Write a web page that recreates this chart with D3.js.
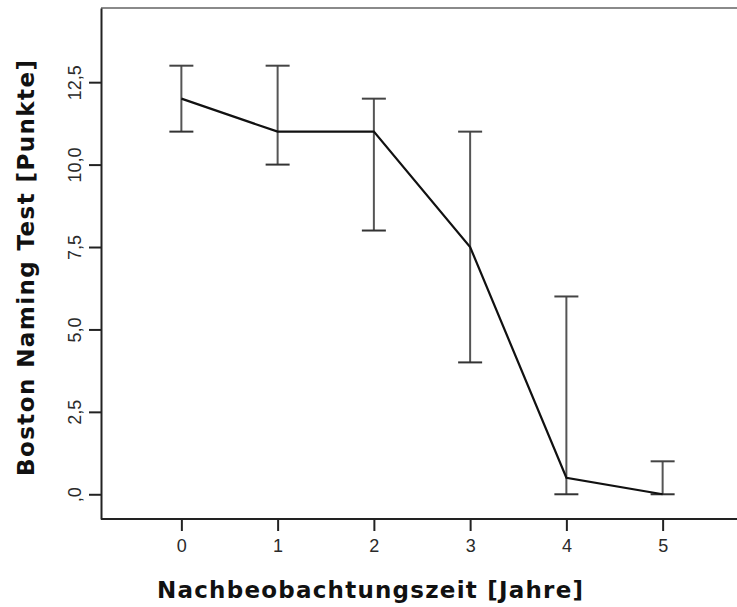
<!DOCTYPE html>
<html>
<head>
<meta charset="utf-8">
<script src="https://cdn.jsdelivr.net/npm/d3@7"></script>
<style>
  body { margin: 0; background: #fff; overflow: hidden; }
  svg { display: block; }
  .tick text { font-family: "Liberation Sans", Arial, sans-serif; fill: #2a2a2a; }
</style>
</head>
<body>
<div id="chart"></div>
<script>
// Nachbeobachtungszeit (Jahre)
var years = [0, 1, 2, 3, 4, 5];
// Mittelwert Boston Naming Test
var means = [12, 11, 11, 7.5, 0.5, 0];
// Fehlerbalken unten / oben
var lowers = [11, 10, 8, 4, 0, 0];
var uppers = [13, 13, 12, 11, 6, 1];
// Achsenbeschriftung y (SPSS Stil)
var yTicks = [0, 2.5, 5, 7.5, 10, 12.5];
var yTickLabels = [",0", "2,5", "5,0", "7,5", "10,0", "12,5"];

var width = 737;
var height = 607;

var svg = d3.select("#chart")
  .append("svg")
  .attr("width", width)
  .attr("height", height);

var x = d3.scaleLinear().domain([-0.835, 5.835]).range([101, 743]);
var y = d3.scaleLinear().domain([-0.75, 14.75]).range([519, 8]);

// Rahmen oben
svg.append("line")
  .attr("x1", x.range()[0]).attr("x2", width)
  .attr("y1", y.range()[1]).attr("y2", y.range()[1])
  .attr("stroke", "#8a8a8a").attr("stroke-width", 2);

// x Achse
var xAxis = svg.append("g")
  .attr("transform", "translate(0," + y.range()[0] + ")")
  .call(d3.axisBottom(x).tickValues(years).tickFormat(d3.format("d")).tickSize(12).tickSizeOuter(0).tickPadding(8));
xAxis.select(".domain").attr("d", "M" + x.range()[0] + ",0H" + width).attr("stroke", "#222").attr("stroke-width", 2);
xAxis.selectAll(".tick line").attr("stroke", "#222").attr("stroke-width", 2);
xAxis.selectAll(".tick text").attr("font-size", 18);

// y Achse
var yAxis = svg.append("g")
  .attr("transform", "translate(" + x.range()[0] + ",0)")
  .call(d3.axisLeft(y).tickValues(yTicks).tickFormat((d, i) => yTickLabels[i]).tickSize(12).tickSizeOuter(0));
yAxis.select(".domain").attr("stroke", "#222").attr("stroke-width", 2);
yAxis.selectAll(".tick line").attr("stroke", "#222").attr("stroke-width", 2);
yAxis.selectAll(".tick text")
  .attr("font-size", 18)
  .attr("x", null).attr("dy", null)
  .attr("text-anchor", "middle")
  .attr("transform", "translate(-20,0) rotate(-90)");

// Fehlerbalken
var bars = svg.append("g");
bars.selectAll("line.v")
  .data(years)
  .enter()
  .append("line")
  .attr("class", "v")
  .attr("x1", (d) => x(d)).attr("x2", (d) => x(d))
  .attr("y1", (d, i) => y(lowers[i])).attr("y2", (d, i) => y(uppers[i]))
  .attr("stroke", "#555").attr("stroke-width", 2);
bars.selectAll("line.top")
  .data(years)
  .enter()
  .append("line")
  .attr("class", "top")
  .attr("x1", (d) => x(d) - 12).attr("x2", (d) => x(d) + 12)
  .attr("y1", (d, i) => y(uppers[i])).attr("y2", (d, i) => y(uppers[i]))
  .attr("stroke", "#444").attr("stroke-width", 2);
bars.selectAll("line.bottom")
  .data(years)
  .enter()
  .append("line")
  .attr("class", "bottom")
  .attr("x1", (d) => x(d) - 12).attr("x2", (d) => x(d) + 12)
  .attr("y1", (d, i) => y(lowers[i])).attr("y2", (d, i) => y(lowers[i]))
  .attr("stroke", "#333").attr("stroke-width", 2);

// Mittelwertlinie
var line = d3.line()
  .x((d) => x(d))
  .y((d, i) => y(means[i]));
svg.append("path")
  .datum(years)
  .attr("d", line)
  .attr("fill", "none")
  .attr("stroke", "#111")
  .attr("stroke-width", 2.2);

// Achsentitel
svg.append("text")
  .text("Nachbeobachtungszeit [Jahre]")
  .attr("x", 370)
  .attr("y", 598)
  .attr("text-anchor", "middle")
  .attr("font-family", "DejaVu Sans, sans-serif")
  .attr("font-weight", "bold")
  .attr("font-size", 23)
  .attr("textLength", 426)
  .attr("lengthAdjust", "spacing")
  .attr("fill", "#111");

svg.append("text")
  .text("Boston Naming Test [Punkte]")
  .attr("transform", "translate(34,268) rotate(-90)")
  .attr("text-anchor", "middle")
  .attr("font-family", "DejaVu Sans, sans-serif")
  .attr("font-weight", "bold")
  .attr("font-size", 23)
  .attr("textLength", 416)
  .attr("lengthAdjust", "spacing")
  .attr("fill", "#111");
</script>
</body>
</html>
